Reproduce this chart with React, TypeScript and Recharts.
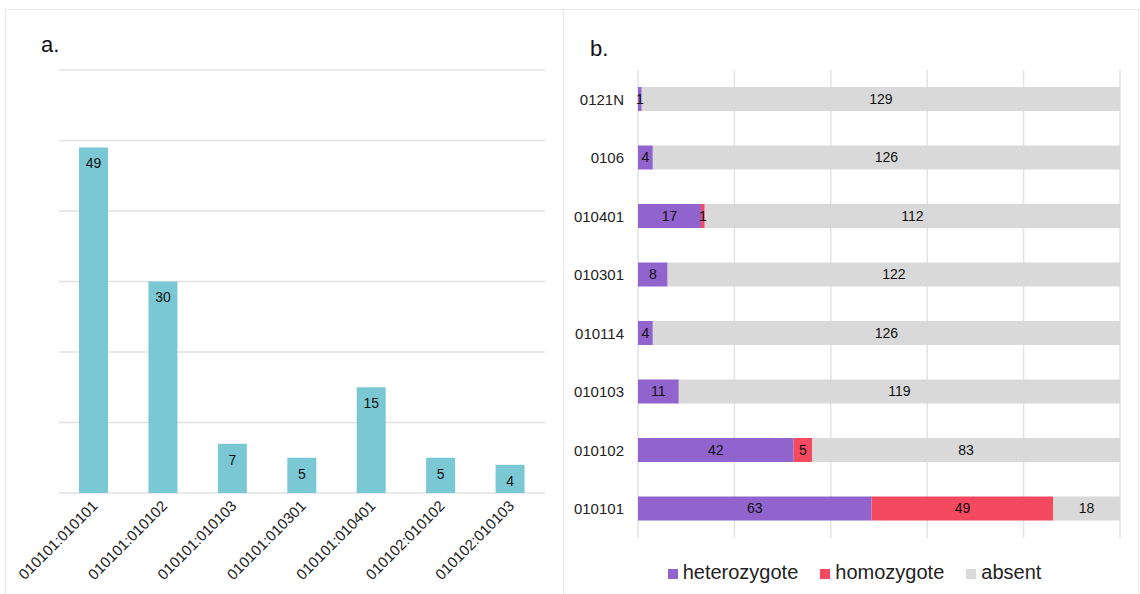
import React from "react";
import { BarChart, Bar, XAxis, YAxis, CartesianGrid, LabelList, Legend } from "recharts";

// panel a: pair counts
const pairLabels = [
  "010101:010101",
  "010101:010102",
  "010101:010103",
  "010101:010301",
  "010101:010401",
  "010102:010102",
  "010102:010103",
];
const pairCounts = [49, 30, 7, 5, 15, 5, 4];
const pairTicks = [0, 10, 20, 30, 40, 50, 60];

// panel b: allele status, top row first
const alleles = ["0121N", "0106", "010401", "010301", "010114", "010103", "010102", "010101"];
const heterozygote = [1, 4, 17, 8, 4, 11, 42, 63];
const homozygote = [0, 0, 1, 0, 0, 0, 5, 49];
const absent = [129, 126, 112, 122, 126, 119, 83, 18];
const statusTicks = [0, 26, 52, 78, 104, 130];

const FONT = '"Liberation Sans", Arial, Helvetica, sans-serif';
const GRID = "#e2e2e2";
const BORDER = "#e8e8e8";

const series = [
  { key: "heterozygote", color: "#9063cd" },
  { key: "homozygote", color: "#f4495f" },
  { key: "absent", color: "#d9d9d9" },
];

const pairData = pairLabels.map((name, i) => ({ name, count: pairCounts[i] }));
const statusData = alleles.map((name, i) => ({
  name,
  heterozygote: heterozygote[i],
  homozygote: homozygote[i],
  absent: absent[i],
}));

const RotatedTick = ({ x, y, payload }: any) => (
  <text
    x={x + 1}
    y={y + 2}
    transform={`rotate(-45, ${x + 1}, ${y + 2})`}
    textAnchor="end"
    dominantBaseline="central"
    fontSize={15}
    fontFamily={FONT}
    fill="#222"
  >
    {payload.value}
  </text>
);

const hideZero = (v: any) => (v ? v : "");

const StatusLegend = () => (
  <div style={{ display: "flex", justifyContent: "center", alignItems: "center", fontFamily: FONT, fontSize: 20, color: "#222", paddingLeft: 26 }}>
    {series.map((s) => (
      <div key={s.key} style={{ display: "flex", alignItems: "center", margin: "0 11px" }}>
        <span style={{ width: 10, height: 10, background: s.color, marginRight: 5, marginTop: 3 }} />
        <span>{s.key}</span>
      </div>
    ))}
  </div>
);

export default function App() {
  return (
    <div style={{ position: "absolute", left: 0, top: 0, width: 1140, height: 594, background: "#fff", overflow: "hidden" }}>
      {/* panel frames */}
      <div style={{ position: "absolute", left: 5, top: 9, width: 1132, height: 600, borderTop: `1px solid ${BORDER}`, borderLeft: `1px solid ${BORDER}`, borderRight: `1px solid ${BORDER}` }} />
      <div style={{ position: "absolute", left: 563, top: 9, width: 1, height: 600, background: BORDER }} />

      <div style={{ position: "absolute", left: 41, top: 33, fontFamily: FONT, fontSize: 22, color: "#111", lineHeight: "24px" }}>a.</div>
      <div style={{ position: "absolute", left: 590, top: 37, fontFamily: FONT, fontSize: 22, color: "#111", lineHeight: "24px" }}>b.</div>

      <div style={{ position: "absolute", left: 0, top: 0 }}>
        <BarChart width={570} height={594} data={pairData} margin={{ top: 70, right: 25, left: 59, bottom: 0 }}>
          <CartesianGrid vertical={false} stroke={GRID} strokeWidth={1.5} />
          <XAxis dataKey="name" height={101} axisLine={false} tickLine={false} interval={0} tick={<RotatedTick />} />
          <YAxis hide domain={[0, 60]} ticks={pairTicks} />
          <Bar dataKey="count" fill="#7ac8d3" barSize={29} isAnimationActive={false}>
            <LabelList dataKey="count" position="insideTop" offset={11} fontSize={14} fontFamily={FONT} fill="#111" />
          </Bar>
        </BarChart>
      </div>

      <div style={{ position: "absolute", left: 563, top: 0 }}>
        <BarChart
          width={577}
          height={594}
          data={statusData}
          layout="vertical"
          margin={{ top: 70, right: 20, left: 0, bottom: 32 }}
        >
          <CartesianGrid horizontal={false} stroke={GRID} strokeWidth={1.5} />
          <XAxis type="number" hide domain={[0, 130]} ticks={statusTicks} />
          <YAxis
            type="category"
            dataKey="name"
            width={75}
            axisLine={false}
            tickLine={false}
            tickMargin={8}
            tick={{ fontSize: 15, fontFamily: FONT, fill: "#222" }}
          />
          <Legend verticalAlign="bottom" height={24} wrapperStyle={{ bottom: 9 }} content={<StatusLegend />} />
          {series.map((s) => (
            <Bar key={s.key} dataKey={s.key} stackId="a" fill={s.color} barSize={24} isAnimationActive={false}>
              <LabelList dataKey={s.key} position="center" formatter={hideZero} fontSize={14} fontFamily={FONT} fill="#111" />
            </Bar>
          ))}
        </BarChart>
      </div>
    </div>
  );
}
